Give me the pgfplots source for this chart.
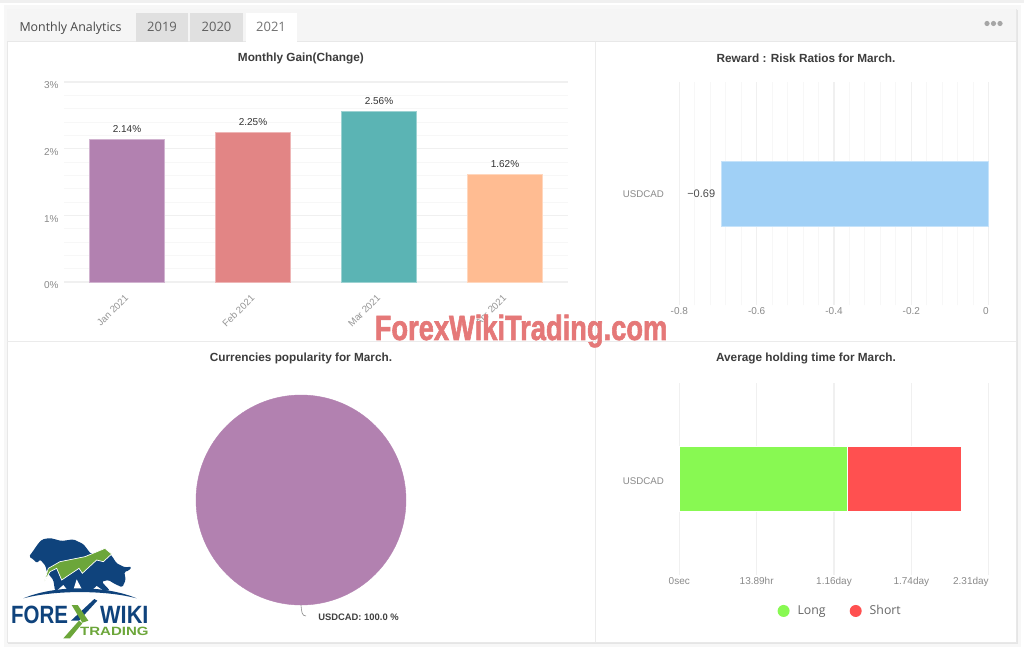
\documentclass[border=0pt]{standalone}
\usepackage{graphicx}
\usepackage{fontspec}
\setmainfont{Liberation Sans}
\newfontfamily\tabfont{Open Sans}
\newfontfamily\wmfont[UprightFont=* Bold,FakeBold=2]{Liberation Sans}
\usepackage{pgfplots}
\pgfplotsset{compat=1.18}

\newcommand\fs[1]{\fontsize{#1}{#1}\selectfont}

\definecolor{purplebar}{HTML}{B281B0}
\definecolor{pinkbar}{HTML}{E28585}
\definecolor{tealbar}{HTML}{5BB4B4}
\definecolor{peachbar}{HTML}{FFBC92}
\definecolor{bluebar}{HTML}{A0D0F6}
\definecolor{longc}{HTML}{88F952}
\definecolor{shortc}{HTML}{FF5050}
\definecolor{ticktxt}{HTML}{8A8A8A}
\definecolor{titletxt}{HTML}{3C3C3C}
\definecolor{gridmaj}{HTML}{F0F0F0}
\definecolor{gridmin}{HTML}{F7F7F7}
\definecolor{logoblue}{HTML}{0F437C}
\definecolor{logogreen}{HTML}{6CA63A}

% shared look of the four panels, sizes in pt = pixels of the reference
\pgfplotsset{
  panel/.style={
    scale only axis,
    anchor=south west,
    axis line style={draw=none},
    major tick length=0pt,
    minor tick length=0pt,
    tick style={draw=none},
    tick label style={font=\fs{10},text=ticktxt},
    major grid style={gridmaj,line width=1.5pt},
    minor grid style={gridmin,line width=1pt},
    title style={font=\bfseries\fs{11.8},text=titletxt,anchor=center},
    clip=false,
  },
}

\begin{document}
\begin{tikzpicture}[x=1pt,y=1pt]
\path[use as bounding box] (0,0) rectangle (1024,-650);
\fill[white] (0,0) rectangle (1024,-650);
\fill[black!6] (0,0) rectangle (1024,-3);
\fill[black!3] (4,-5) rectangle (1021,-647);
\fill[black!10] (8,-10) rectangle (1018,-644);
\fill[white] (7,-9) rectangle (1016,-642);
\draw[black!9,line width=.8pt] (7,-9) rectangle (1016,-642);

% header with tabs
\fill[black!4] (7,-9) rectangle (1016,-41);
\draw[black!9,line width=.8pt] (7,-41.5) -- (1016,-41.5);
\fill[black!12] (136,-13) rectangle (188,-42);
\fill[black!12] (190,-13) rectangle (243,-42);
\fill[white] (246,-13) rectangle (297,-42);
\node[text=black!72,font=\tabfont\fs{12.4}] at (70.5,-28) {Monthly Analytics};
\node[text=black!62,font=\tabfont\fs{13}] at (162,-27) {2019};
\node[text=black!62,font=\tabfont\fs{13}] at (216.5,-27) {2020};
\node[text=black!55,font=\tabfont\fs{13}] at (271,-27) {2021};
\fill[black!35] (987,-23.5) circle (2.6) (993.5,-23.5) circle (2.6) (1000,-23.5) circle (2.6);

% panel dividers
\draw[black!8,line width=.8pt] (595.5,-42) -- (595.5,-642);
\draw[black!8,line width=.8pt] (7,-341.5) -- (1016,-341.5);

% monthly gain
\begin{axis}[panel,
  at={(64pt,-282pt)},
  width=504pt,height=200pt,
  title={Monthly Gain(Change)},
  title style={at={(0.47,1)},yshift=18pt},
  xmin=-0.5,xmax=3.5,ymin=0,ymax=3,
  xtick={0,1,2,3},
  xticklabels={Jan 2021,Feb 2021,Mar 2021,Apr 2021},
  xticklabel style={rotate=45,anchor=north east,yshift=-3pt,xshift=-7pt,text=ticktxt!90,font=\fs{9.6}},
  ytick={0,1,2,3},
  yticklabels={0\%,1\%,2\%,3\%},
  yticklabel style={yshift=-3.5pt,xshift=-2pt},
  minor y tick num=4,
  ymajorgrids,yminorgrids,
  ybar,
  bar width=75pt,
  bar shift=0pt,
  nodes near coords={\pgfmathprintnumber[fixed,precision=2,fixed zerofill,assume math mode=true]{\pgfplotspointmeta}\%},
  every node near coord/.append style={font=\fs{10},text=black!80,yshift=3pt},
]
\addplot[fill=purplebar,draw=purplebar!60!white,line width=.8pt] coordinates {(0,2.14)};
\addplot[fill=pinkbar,draw=pinkbar!60!white,line width=.8pt] coordinates {(1,2.25)};
\addplot[fill=tealbar,draw=tealbar!60!white,line width=.8pt] coordinates {(2,2.56)};
\addplot[fill=peachbar,draw=peachbar!60!white,line width=.8pt] coordinates {(3,1.62)};
\end{axis}

% reward : risk
\begin{axis}[panel,
  at={(679.3pt,-305pt)},
  width=309.4pt,height=223pt,
  title={Reward : Risk Ratios for March.},
  title style={at={(0.4095,1)},yshift=18pt},
  xmin=-0.8,xmax=0,ymin=-0.5,ymax=0.5,
  xtick={-0.8,-0.6,-0.4,-0.2,0},
  xticklabels={-0.8,-0.6,-0.4,-0.2,\makebox[0pt][r]{0}},
  xticklabel style={yshift=1pt},
  minor x tick num=4,
  xmajorgrids,xminorgrids,
  ytick={0},
  yticklabels={USDCAD},
  yticklabel style={xshift=-12pt,yshift=-1pt,font=\fs{9.7}},
  xbar,
  bar width=65pt,
  point meta=explicit,
  nodes near coords={\textminus\pgfmathprintnumber[fixed,precision=2,assume math mode=true]{\pgfplotspointmeta}},
  every node near coord/.append style={anchor=east,font=\fs{11},text=black!70,xshift=-3pt},
]
\addplot[fill=bluebar,draw=bluebar!60!white,line width=.8pt] coordinates {(-0.69,0) [0.69]};
\end{axis}

% currencies popularity: a single slice of 100 %
\begin{axis}[panel,
  at={(196pt,-605pt)},
  width=210pt,height=210pt,
  hide axis,
  title={Currencies popularity for March.},
  title style={at={(0.5,1)},yshift=31pt},
  xmin=-1,xmax=1,ymin=0,ymax=200,
]
\addplot[only marks,mark=*,mark size=105pt,mark options={fill=purplebar,draw=purplebar}] coordinates {(0,100)};
\end{axis}
\draw[black!45,line width=.6pt] (301,-605) .. controls (301.5,-612) and (302,-616) .. (306,-616);
\node[font=\bfseries\fs{9.4},text=black!75] at (358.5,-617) {USDCAD: 100.0 \%};

% average holding time, values in days
\begin{axis}[panel,
  at={(679.3pt,-575pt)},
  width=309.4pt,height=192.3pt,
  title={Average holding time for March.},
  title style={at={(0.4095,1)},yshift=18.7pt},
  xmin=0,xmax=2.315,ymin=-0.5,ymax=0.5,
  xtick={0,0.5787,1.1574,1.7361,2.315},
  xticklabels={0sec,13.89hr,1.16day,1.74day,\makebox[0pt][r]{2.31day}},
  xticklabel style={yshift=1pt},
  minor x tick num=4,
  xmajorgrids,xminorgrids,
  ytick={0},
  yticklabels={USDCAD},
  yticklabel style={xshift=-12pt,yshift=-2pt,font=\fs{9.7}},
  xbar stacked,
  bar width=65.7pt,
  legend columns=2,
  legend style={at={(0.52,-0.187)},anchor=center,draw=none,fill=none,
    font=\tabfont\fs{12.3},text=black!60,
    /tikz/every odd column/.append style={column sep=6pt},
    /tikz/every even column/.append style={column sep=22pt}},
  legend image code/.code={\fill[#1,draw=none] (0pt,0pt) circle (6pt);},
]
\addplot[fill=longc,draw=white,line width=.8pt] coordinates {(1.255,0)};
\addplot[fill=shortc,draw=white,line width=.8pt] coordinates {(0.858,0)};
\legend{Long,Short}
\end{axis}

% logo, in pixels of a 3x crop of the corner
\begin{scope}[shift={(5,-530)},x=.3333pt,y=-.3333pt]
\fill[logoblue,rounded corners=1.5pt] (72,80) -- (85,62) -- (100,40) -- (112,28) -- (135,24) -- (170,33)
  -- (205,28) -- (235,42) -- (258,72) -- (305,60) -- (322,80) -- (335,100) -- (360,112) -- (380,110)
  -- (372,122) -- (358,125) -- (362,150) -- (352,172) -- (330,162) -- (310,150) -- (290,155)
  -- (315,182) -- (150,182) -- (145,150) -- (125,125) -- (122,108) -- (105,88) -- (96,100) -- (85,88) -- cycle;
\fill[white] (158,180) -- (175,165) -- (187,180) -- cycle
  (205,180) -- (215,148) -- (232,180) -- cycle
  (262,180) -- (275,168) -- (292,180) -- cycle;
\fill[logoblue] (55,205) .. controls (150,165) and (300,165) .. (395,205)
  .. controls (300,180) and (150,180) .. cycle;
\filldraw[fill=logogreen,draw=white,line width=.7pt] (118,155) -- (130,115) -- (165,95) -- (240,80)
  -- (300,55) -- (320,72) -- (295,95) -- (275,90) -- (232,130) -- (222,115) -- (170,150)
  -- (155,115) -- (135,125) -- cycle;
\node[anchor=base west,inner sep=0pt,text=logoblue,font=\bfseries\fs{25}] at (18,280) {\scalebox{.82}[1]{FORE}};
\node[anchor=base west,inner sep=0pt,text=logoblue,font=\bfseries\fs{25}] at (285,280) {\scalebox{.87}[1]{WIKI}};
\fill[logoblue] (198,272) -- (268,207) -- (277,212) -- (222,272) -- cycle;
\fill[logogreen] (200,225) -- (218,225) -- (250,272) -- (232,278) -- cycle;
\fill[logogreen] (175,325) -- (222,272) -- (232,280) -- (195,325) -- cycle;
\node[anchor=base west,inner sep=0pt,text=logogreen,font=\bfseries\fs{12}] at (225,318) {\scalebox{1.25}[1]{TRADING}};
\end{scope}

% watermark
\node[inner sep=0pt,text=pinkbar!90!red,font=\wmfont\fs{35}] at (521,-331) {\scalebox{.78}[1]{ForexWikiTrading.com}};
\end{tikzpicture}
\end{document}
